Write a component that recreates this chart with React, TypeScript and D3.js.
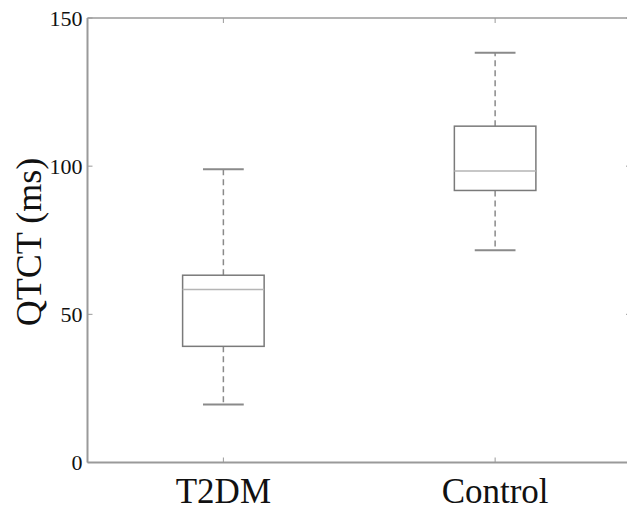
import React from "react";
import * as d3 from "d3";

const categories = ["T2DM", "Control"];
const whiskerLow = [19.6, 71.6];
const q1 = [39.2, 91.8];
const median = [58.4, 98.4];
const q3 = [63.2, 113.5];
const whiskerHigh = [99.0, 138.3];
const yTicks = [0, 50, 100, 150];

const W = 627;
const H = 510;

export default function App() {
  const x = d3.scaleLinear().domain([0.5, 2.5]).range([87.5, 631]);
  const y = d3.scaleLinear().domain([0, 150]).range([462.5, 18]);
  const unit = x(1) - x(0);
  const boxW = unit * 0.3;
  const capW = boxW / 2;
  const axisColor = "#9a9a9a";
  const boxColor = "#7a7a7a";
  const font = "Liberation Serif, Times New Roman, Times, serif";
  const x0 = x(0.5);
  const x1 = x(2.5);
  const yb = y(0);
  const yt = y(150);
  const textStyle = { fontFamily: font };

  return (
    <svg width={W} height={H} style={{ position: "absolute", left: 0, top: 0, background: "#fff" }}>
      <rect x={0} y={0} width={W} height={H} fill="#fff" />
      {/* frame */}
      <line x1={x0} x2={x1} y1={yb} y2={yb} stroke={axisColor} strokeWidth={2} />
      <line x1={x0} x2={x1} y1={yt} y2={yt} stroke={axisColor} strokeWidth={1.5} />
      <line x1={x0} x2={x0} y1={yt} y2={yb} stroke={axisColor} strokeWidth={2} />
      <line x1={x1} x2={x1} y1={yt} y2={yb} stroke={axisColor} strokeWidth={1.5} />
      {/* y ticks */}
      {yTicks.map((t) => (
        <g key={t}>
          <line x1={x0} x2={x0 + 5} y1={y(t)} y2={y(t)} stroke={axisColor} strokeWidth={1} />
          <line x1={x1} x2={x1 - 5} y1={y(t)} y2={y(t)} stroke={axisColor} strokeWidth={1} />
          <text
            x={x0 - 5}
            y={y(t) + 7.5}
            textAnchor="end"
            style={textStyle}
            fontSize={22}
            fill="#111"
          >
            {t}
          </text>
        </g>
      ))}
      {/* x ticks and labels */}
      {categories.map((c, i) => (
        <g key={c}>
          <line x1={x(i + 1)} x2={x(i + 1)} y1={yb} y2={yb - 5} stroke={axisColor} strokeWidth={1} />
          <line x1={x(i + 1)} x2={x(i + 1)} y1={yt} y2={yt + 5} stroke={axisColor} strokeWidth={1} />
          <text
            x={x(i + 1)}
            y={503}
            textAnchor="middle"
            style={textStyle}
            fontSize={35}
            fill="#111"
          >
            {c}
          </text>
        </g>
      ))}
      {/* boxes */}
      {categories.map((c, i) => {
        const cx = x(i + 1);
        return (
          <g key={"b" + c}>
            <line x1={cx} x2={cx} y1={y(q3[i])} y2={y(whiskerHigh[i])} stroke="#8a8a8a" strokeWidth={1.5} strokeDasharray="6,4" />
            <line x1={cx} x2={cx} y1={y(q1[i])} y2={y(whiskerLow[i])} stroke="#8a8a8a" strokeWidth={1.5} strokeDasharray="6,4" />
            <line x1={cx - capW / 2} x2={cx + capW / 2} y1={y(whiskerHigh[i])} y2={y(whiskerHigh[i])} stroke="#8a8a8a" strokeWidth={2} />
            <line x1={cx - capW / 2} x2={cx + capW / 2} y1={y(whiskerLow[i])} y2={y(whiskerLow[i])} stroke="#8a8a8a" strokeWidth={2} />
            <rect
              x={cx - boxW / 2}
              y={y(q3[i])}
              width={boxW}
              height={y(q1[i]) - y(q3[i])}
              fill="none"
              stroke={boxColor}
              strokeWidth={1.5}
            />
            <line x1={cx - boxW / 2} x2={cx + boxW / 2} y1={y(median[i])} y2={y(median[i])} stroke="#b5b5b5" strokeWidth={1.5} />
          </g>
        );
      })}
      {/* y title */}
      <text
        transform={`translate(41, ${242}) rotate(-90)`}
        textAnchor="middle"
        style={textStyle}
        fontSize={36}
        fill="#111"
      >
        QTCT (ms)
      </text>
    </svg>
  );
}
